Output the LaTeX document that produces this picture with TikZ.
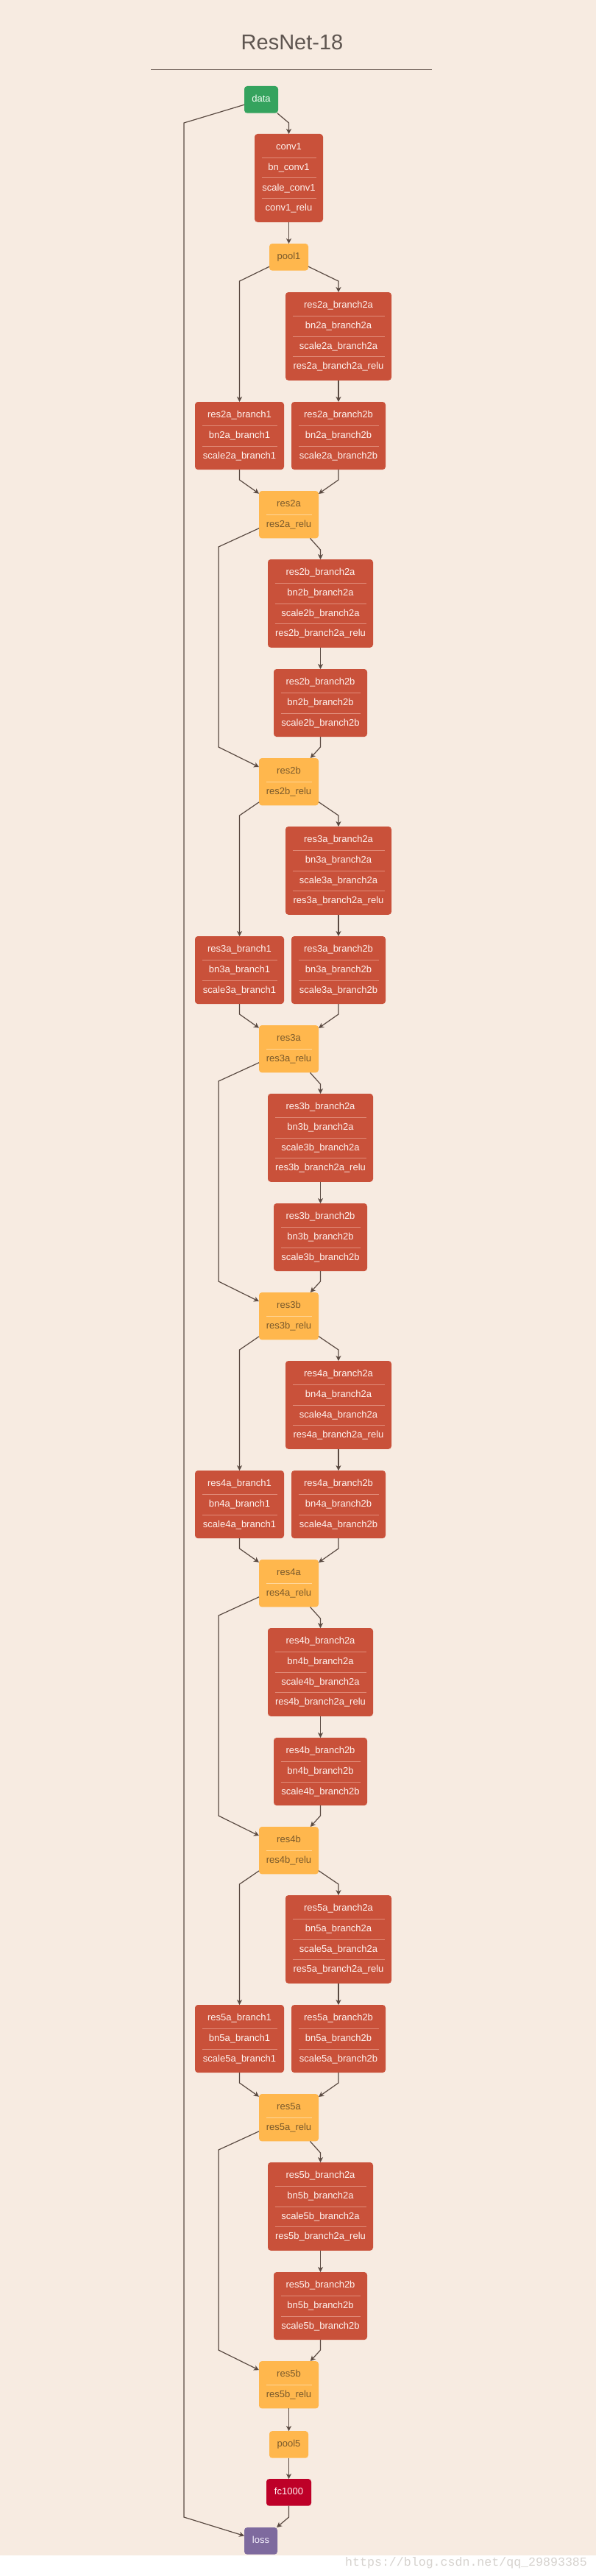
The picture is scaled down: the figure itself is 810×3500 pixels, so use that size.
\documentclass[tikz,border=0pt]{standalone}
\usepackage{fontspec}
\setmainfont{Liberation Sans}
\newfontfamily\wmfont{Liberation Mono}
\usetikzlibrary{calc,arrows.meta}
\definecolor{bgc}{HTML}{F7EBE1}
\definecolor{redc}{HTML}{C9513A}
\definecolor{redsep}{HTML}{E18C79}
\definecolor{redtxt}{HTML}{FFF3EF}
\definecolor{yelc}{HTML}{FFB74D}
\definecolor{yelsep}{HTML}{FFD699}
\definecolor{yeltxt}{HTML}{7A5A2C}
\definecolor{grnc}{HTML}{35A35E}
\definecolor{grntxt}{HTML}{F3FFF6}
\definecolor{grnsep}{HTML}{7CC99A}
\definecolor{fcc}{HTML}{BE0028}
\definecolor{fctxt}{HTML}{FFF0F2}
\definecolor{fcsep}{HTML}{E06070}
\definecolor{lossc}{HTML}{7E6A9E}
\definecolor{losstxt}{HTML}{F6F2FF}
\definecolor{losssep}{HTML}{A898C0}
\definecolor{edgec}{HTML}{5A4A42}
\definecolor{titlec}{HTML}{5E5550}
\definecolor{rulec}{HTML}{7D6E66}
\definecolor{wmc}{HTML}{D6D2CE}

\tikzset{
  blk/.style={draw=none, rounded corners=4pt, inner sep=0pt, outer sep=0pt},
  rowtxt/.style={font=\fontsize{13}{15}\selectfont, inner sep=0pt, text height=9.5pt, text depth=2.5pt, anchor=center},
  sepline/.style={line width=0.8pt},
  conn/.style={draw=edgec, line width=1.2pt, -{Stealth[length=7pt,width=7pt,inset=2pt]}},
}

\newcommand\mkblock[6]{% name, colour key, left, top, right, rows
  \def\nrows{0}%
  \foreach \rr in {#6} {\xdef\nrows{\the\numexpr\nrows+1\relax}}%
  \pgfmathsetmacro\blkh{27.7*\nrows+9}%
  \pgfmathsetmacro\blkw{#5-(#3)}%
  \node[blk, fill=#2c, minimum width=\blkw pt, minimum height=\blkh pt, anchor=north west] (#1) at (#3,#4) {};
  \foreach \rr [count=\ri] in {#6} {%
    \node[rowtxt, text=#2txt] at ($(#1.north)+(0,4.5+27.7*\ri-13.85)$) {\rr};
    \ifnum\ri>1
      \draw[sepline, draw=#2sep] ($(#1.north west)+(9.5,4.5+27.7*\ri-27.7)$) -- ($(#1.north east)+(-9.5,4.5+27.7*\ri-27.7)$);
    \fi
  }%
}

\begin{document}
\begin{tikzpicture}[x=1pt, y=-1pt]
\useasboundingbox (0,0) rectangle (810,3500);
\fill[bgc] (0,0) rectangle (810,3472);
\fill[white] (0,3472) rectangle (810,3500);

% title
\node[font=\fontsize{29}{34}\selectfont, text=titlec, anchor=base, inner sep=0pt] (title) at (397,68) {ResNet-18};
\draw[rulec, line width=1pt] (205,95) -- (587,95);

% head
\mkblock{data}{grn}{332}{117}{378}{data}
\mkblock{conv1}{red}{346}{182}{439}{conv1,bn\_conv1,scale\_conv1,conv1\_relu}
\mkblock{pool1}{yel}{366}{331}{419}{pool1}
\draw[conn] (data) -- (392.5,167) -- (conv1);
\draw[conn] (conv1) -- (pool1);

% residual stages
\foreach \s [count=\k from 0] in {2,3,4,5} {
  \pgfmathsetmacro\off{726*\k}
  \ifnum\k=0 \def\inp{pool1}\else \pgfmathtruncatemacro\ps{\s-1}\edef\inp{rb\ps}\fi
  \mkblock{raa\s}{red}{388}{397+\off}{532}{res\s a\_branch2a,bn\s a\_branch2a,scale\s a\_branch2a,res\s a\_branch2a\_relu}
  \mkblock{ra1\s}{red}{265}{546+\off}{386}{res\s a\_branch1,bn\s a\_branch1,scale\s a\_branch1}
  \mkblock{rab\s}{red}{396}{546+\off}{524}{res\s a\_branch2b,bn\s a\_branch2b,scale\s a\_branch2b}
  \mkblock{ra\s}{yel}{352}{667+\off}{433}{res\s a,res\s a\_relu}
  \mkblock{rba\s}{red}{364}{760+\off}{507}{res\s b\_branch2a,bn\s b\_branch2a,scale\s b\_branch2a,res\s b\_branch2a\_relu}
  \mkblock{rbb\s}{red}{372}{909+\off}{499}{res\s b\_branch2b,bn\s b\_branch2b,scale\s b\_branch2b}
  \mkblock{rb\s}{yel}{352}{1030+\off}{433}{res\s b,res\s b\_relu}
  \draw[conn] (\inp) -- (325.5,382+\off) -- (ra1\s);
  \draw[conn] (\inp) -- (460,382+\off) -- (raa\s);
  \draw[conn] (raa\s) -- (rab\s);
  \draw[conn] (ra1\s) -- (325.5,652+\off) -- (ra\s);
  \draw[conn] (rab\s) -- (460,652+\off) -- (ra\s);
  \draw[conn] (ra\s) -- (297,743+\off) -- (297,1015+\off) -- (rb\s);
  \draw[conn] (ra\s) -- (435.5,747+\off) -- (rba\s);
  \draw[conn] (rba\s) -- (rbb\s);
  \draw[conn] (rbb\s) -- (435.5,1015+\off) -- (rb\s);
}

% tail
\mkblock{pool5}{yel}{366}{3303}{419}{pool5}
\mkblock{fc}{fc}{362}{3368}{423}{fc1000}
\mkblock{loss}{loss}{332}{3434}{377}{loss}
\draw[conn] (rb5) -- (pool5);
\draw[conn] (pool5) -- (fc);
\draw[conn] (fc) -- (392.5,3420) -- (loss);
\draw[conn] (data) -- (250,167) -- (250,3420) -- (loss);

% watermark
\node[font=\wmfont\fontsize{16.6}{18}\selectfont, text=wmc, anchor=base west, inner sep=0pt] (wm) at (469,3486) {https://blog.csdn.net/qq\_29893385};
\end{tikzpicture}
\end{document}
